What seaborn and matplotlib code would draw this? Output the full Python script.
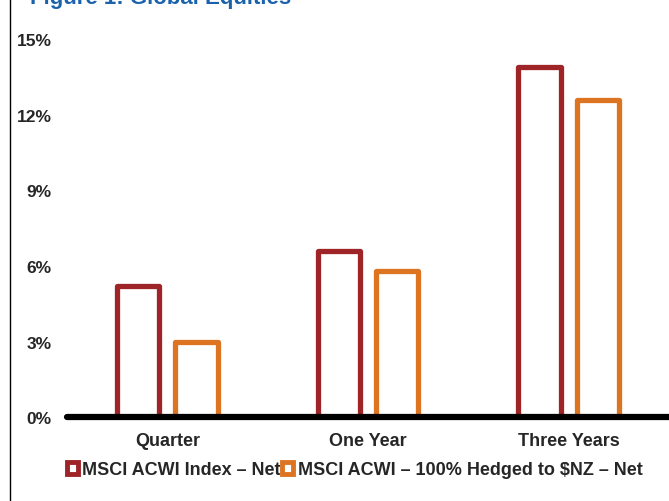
import pandas as pd
import matplotlib.pyplot as plt
import seaborn as sns
from matplotlib.patches import Patch
from matplotlib.ticker import FuncFormatter

# datos
periodos = ['Quarter', 'One Year', 'Three Years']
series = ['MSCI ACWI Index \u2013 Net', 'MSCI ACWI \u2013 100% Hedged to $NZ \u2013 Net']
acwi_net = [5.2, 6.6, 13.9]
acwi_hedged = [3.0, 5.8, 12.6]
colores = ['#9E2428', '#DD7421']
y_ticks = [0, 3, 6, 9, 12, 15]

datos = pd.DataFrame({
    'periodo': periodos * 2,
    'serie': [series[0]] * 3 + [series[1]] * 3,
    'valor': acwi_net + acwi_hedged,
})

sns.set_theme(style='white')
plt.rcParams['font.family'] = ['Liberation Sans', 'DejaVu Sans']
plt.rcParams['font.weight'] = 'bold'

fig = plt.figure(figsize=(6.69, 5.02), dpi=100)
ax = fig.add_axes([0.1, 0.167, 0.9, 0.753])

sns.barplot(data=datos, x='periodo', y='valor', hue='serie', order=periodos,
            hue_order=series, palette=colores, fill=False, linewidth=3.8,
            width=0.58, gap=0.27, ax=ax, legend=False)
for barra in ax.patches:
    barra.set_joinstyle('round')
    barra.set_facecolor('white')

ax.axhline(0, color='black', lw=4.5, zorder=5, clip_on=False)
ax.set_xlim(-0.5, 2.5)
ax.set_ylim(0, 15)
ax.set_yticks(y_ticks)
ax.yaxis.set_major_formatter(FuncFormatter(lambda v, p: f'{v:.0f}%'))
ax.tick_params(axis='y', length=0, pad=11, labelsize=12.5)
ax.tick_params(axis='x', length=0, pad=11, labelsize=13)
for etiqueta in ax.get_xticklabels() + ax.get_yticklabels():
    etiqueta.set_fontweight('bold')
ax.set_xlabel('')
ax.set_ylabel('')
sns.despine(ax=ax, left=True, bottom=True)

# leyenda con cuadros huecos
manijas = [Patch(facecolor='white', edgecolor=c, linewidth=3.5) for c in colores]
fig.legend(manijas, series, loc='center', bbox_to_anchor=(0.53, 0.062), ncol=2,
           frameon=False, handlelength=0.6, handleheight=0.7, handletextpad=0.25,
           columnspacing=0.1, prop={'weight': 'bold', 'size': 13})

# titulo cortado en la parte superior y borde izquierdo
fig.text(0.045, 0.993, 'Figure 1: Global Equities', color='#1B62AC', fontsize=16,
         fontweight='bold', va='baseline', ha='left')
fig.add_artist(plt.Line2D([0.015, 0.015], [0, 1], color='black', lw=1))

fig.savefig('out.png', dpi=100)
